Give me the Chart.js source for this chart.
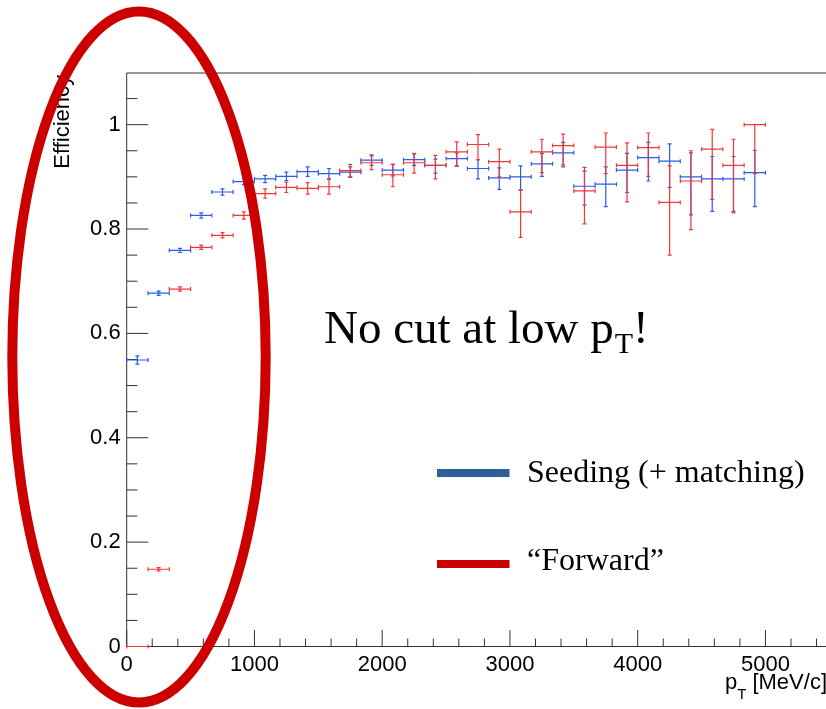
<!DOCTYPE html>
<html><head><meta charset="utf-8">
<script src="https://cdn.jsdelivr.net/npm/chart.js@4"></script>
<style>html,body{margin:0;padding:0;background:#fff;overflow:hidden}canvas{display:block}</style>
</head><body>
<canvas id="c" width="826" height="709"></canvas>
<script>
// ---- data ----
const binEdges = [0,166.7,333.3,500,666.7,833.3,1000,1166.7,1333.3,1500,1666.7,1833.3,2000,2166.7,2333.3,2500,2666.7,2833.3,3000,3166.7,3333.3,3500,3666.7,3833.3,4000,4166.7,4333.3,4500,4666.7,4833.3,5000];

const seriesNames = ['Seeding (+ matching)', '\u201CForward\u201D'];

const seedingEff     = [0.549,0.677,0.759,0.826,0.871,0.891,0.896,0.901,0.910,0.906,0.909,0.932,0.913,0.933,0.922,0.935,0.916,0.898,0.900,0.925,0.946,0.882,0.886,0.913,0.937,0.930,0.900,0.896,0.896,0.908];
const seedingErrLow  = [0.008,0.004,0.004,0.005,0.006,0.006,0.007,0.008,0.009,0.010,0.010,0.010,0.011,0.011,0.015,0.015,0.020,0.022,0.026,0.024,0.027,0.036,0.043,0.043,0.045,0.050,0.073,0.062,0.062,0.065];
const seedingErrHigh = [0.008,0.004,0.004,0.005,0.006,0.006,0.007,0.008,0.009,0.010,0.010,0.010,0.011,0.011,0.012,0.011,0.017,0.019,0.021,0.020,0.020,0.029,0.033,0.032,0.029,0.033,0.046,0.043,0.043,0.043];

const forwardEff     = [0.000,0.148,0.685,0.765,0.788,0.826,0.868,0.880,0.878,0.881,0.912,0.927,0.904,0.927,0.922,0.948,0.962,0.929,0.833,0.948,0.960,0.873,0.957,0.922,0.956,0.851,0.892,0.953,0.922,1.000];
const forwardErrLow  = [0.000,0.003,0.004,0.004,0.005,0.007,0.009,0.010,0.011,0.014,0.012,0.013,0.023,0.020,0.026,0.027,0.029,0.029,0.049,0.040,0.037,0.063,0.051,0.070,0.055,0.101,0.093,0.096,0.091,0.094];
const forwardErrHigh = [0.000,0.003,0.004,0.004,0.005,0.007,0.009,0.010,0.011,0.014,0.012,0.013,0.020,0.018,0.019,0.019,0.019,0.024,0.042,0.024,0.022,0.045,0.027,0.043,0.028,0.070,0.058,0.038,0.050,0.000];

const xTickValues = [0,1000,2000,3000,4000,5000];
const xTickLabels = ['0','1000','2000','3000','4000','5000'];
const yTickValues = [0,0.2,0.4,0.6,0.8,1];
const yTickLabels = ['0','0.2','0.4','0.6','0.8','1'];

// ---- build datasets ----
function makePoints(eff){ return eff.map((v,i)=>({x:(binEdges[i]+binEdges[i+1])/2, y:v})); }

const BLUE = '#2a5cf0', RED = '#f03838';
const datasets = [
  {label: seriesNames[0], data: makePoints(seedingEff), borderColor: BLUE, backgroundColor: BLUE,
   errLow: seedingErrLow, errHigh: seedingErrHigh, pointRadius: 0, showLine: false},
  {label: seriesNames[1], data: makePoints(forwardEff), borderColor: RED, backgroundColor: RED,
   errLow: forwardErrLow, errHigh: forwardErrHigh, pointRadius: 0, showLine: false}
];

const SANS = '"Liberation Sans", Arial, Helvetica, sans-serif';
const SERIF = '"Liberation Serif", "Times New Roman", serif';

const framePlugin = {
  id: 'frame',
  beforeDatasetsDraw(chart){
    const {ctx, chartArea:a, scales:{x,y}} = chart;
    ctx.save();
    ctx.strokeStyle = '#333'; ctx.lineWidth = 1;
    ctx.beginPath();
    ctx.moveTo(a.right+5, a.top); ctx.lineTo(a.left, a.top); ctx.lineTo(a.left, a.bottom); ctx.lineTo(a.right+5, a.bottom);
    ctx.stroke();
    ctx.beginPath();
    for (let k=0;k<=22;k++){
      const v = k*0.05; if (v > y.max+1e-9) break;
      const p = y.getPixelForValue(v);
      const major = (k%4===0);
      ctx.moveTo(a.left, p); ctx.lineTo(a.left + (major?21.6:10.7), p);
    }
    for (let k=0;k<=30;k++){
      const v = k*200; if (v > x.max) break;
      const p = x.getPixelForValue(v);
      const major = (k%5===0);
      ctx.moveTo(p, a.bottom); ctx.lineTo(p, a.bottom - (major?16.5:8));
    }
    ctx.stroke();
    ctx.restore();
  }
};

const errorBarPlugin = {
  id: 'errbars',
  afterDatasetsDraw(chart){
    const {ctx, scales:{x,y}} = chart;
    chart.data.datasets.forEach(ds => {
      ctx.save();
      ctx.strokeStyle = ds.borderColor; ctx.lineWidth = 1.2;
      ctx.beginPath();
      ds.data.forEach((pt,i) => {
        const xl = x.getPixelForValue(binEdges[i]), xr = x.getPixelForValue(binEdges[i+1]);
        const xc = x.getPixelForValue(pt.x), yc = y.getPixelForValue(pt.y);
        const yh = y.getPixelForValue(pt.y + ds.errHigh[i]), yl = y.getPixelForValue(pt.y - ds.errLow[i]);
        ctx.moveTo(xl, yc); ctx.lineTo(xr, yc);
        ctx.moveTo(xl, yc-2); ctx.lineTo(xl, yc+2);
        ctx.moveTo(xr, yc-2); ctx.lineTo(xr, yc+2);
        if (yl - yh > 0.5){
          ctx.moveTo(xc, yh); ctx.lineTo(xc, yl);
          ctx.moveTo(xc-2, yh); ctx.lineTo(xc+2, yh);
          ctx.moveTo(xc-2, yl); ctx.lineTo(xc+2, yl);
        }
      });
      ctx.stroke();
      ctx.restore();
    });
  }
};

const annotationPlugin = {
  id: 'annot',
  afterDraw(chart){
    const ctx = chart.ctx;
    ctx.save();
    ctx.fillStyle = '#000';
    // y axis title
    ctx.save();
    ctx.font = '22px ' + SANS;
    ctx.translate(69, 75); ctx.rotate(-Math.PI/2);
    ctx.textAlign = 'right'; ctx.textBaseline = 'alphabetic';
    ctx.fillText('Efficiency', 0, 0);
    ctx.restore();
    // x axis title: p_T [MeV/c], right aligned
    ctx.textBaseline = 'alphabetic'; ctx.textAlign = 'left';
    ctx.font = '22px ' + SANS; const wp = ctx.measureText('p').width; const wr = ctx.measureText(' [MeV/c]').width;
    ctx.font = '15px ' + SANS; const wt = ctx.measureText('T').width;
    let xs = 827 - (wp + wt + wr);
    ctx.font = '22px ' + SANS; ctx.fillText('p', xs, 689);
    ctx.font = '15px ' + SANS; ctx.fillText('T', xs+wp, 699);
    ctx.font = '22px ' + SANS; ctx.fillText(' [MeV/c]', xs+wp+wt, 689);

    // annotation text
    ctx.font = '47px ' + SERIF;
    let tx = 324;
    ctx.fillText('No cut at low p', tx, 343);
    tx += ctx.measureText('No cut at low p').width + 1;
    ctx.font = '30px ' + SERIF;
    ctx.fillText('T', tx, 353);
    tx += ctx.measureText('T').width;
    ctx.font = '47px ' + SERIF;
    ctx.fillText('!', tx, 343);

    // legend
    ctx.fillStyle = '#2e5f99'; ctx.fillRect(437, 469, 72.5, 8);
    ctx.fillStyle = '#cc0000'; ctx.fillRect(437, 560, 72.5, 8);
    ctx.fillStyle = '#000';
    ctx.font = '32px ' + SERIF;
    ctx.fillText(seriesNames[0], 527, 482);
    ctx.fillText(seriesNames[1], 527, 570);

    // red ellipse highlight
    ctx.beginPath();
    ctx.ellipse(139, 357, 126.7, 345.5, 0, 0, Math.PI*2);
    ctx.strokeStyle = '#cc0000'; ctx.lineWidth = 10;
    ctx.stroke();
    ctx.restore();
  }
};

new Chart(document.getElementById('c'), {
  type: 'scatter',
  data: { datasets },
  options: {
    responsive: false, animation: false, devicePixelRatio: 1,
    layout: { padding: { top: 73, left: 0, right: 0, bottom: 0 } },
    plugins: { legend: { display: false }, tooltip: { enabled: false } },
    scales: {
      x: {
        type: 'linear', min: 0, max: 5474,
        afterBuildTicks: s => { s.ticks = xTickValues.map(v => ({value: v})); },
        afterFit: s => { s.height = 62.5; },
        ticks: { callback: (v, i) => xTickLabels[i], color: '#000', font: { size: 22, family: SANS }, padding: 5, maxRotation: 0, autoSkip: false },
        grid: { display: false, drawTicks: false }, border: { display: false }
      },
      y: {
        type: 'linear', min: 0, max: 1.099,
        afterBuildTicks: s => { s.ticks = yTickValues.map(v => ({value: v})); },
        afterFit: s => { s.width = 126.7; },
        ticks: { callback: (v, i) => yTickLabels[i], color: '#000', font: { size: 22, family: SANS }, padding: 6, autoSkip: false },
        grid: { display: false, drawTicks: false }, border: { display: false }
      }
    }
  },
  plugins: [framePlugin, errorBarPlugin, annotationPlugin]
});
</script>
</body></html>
